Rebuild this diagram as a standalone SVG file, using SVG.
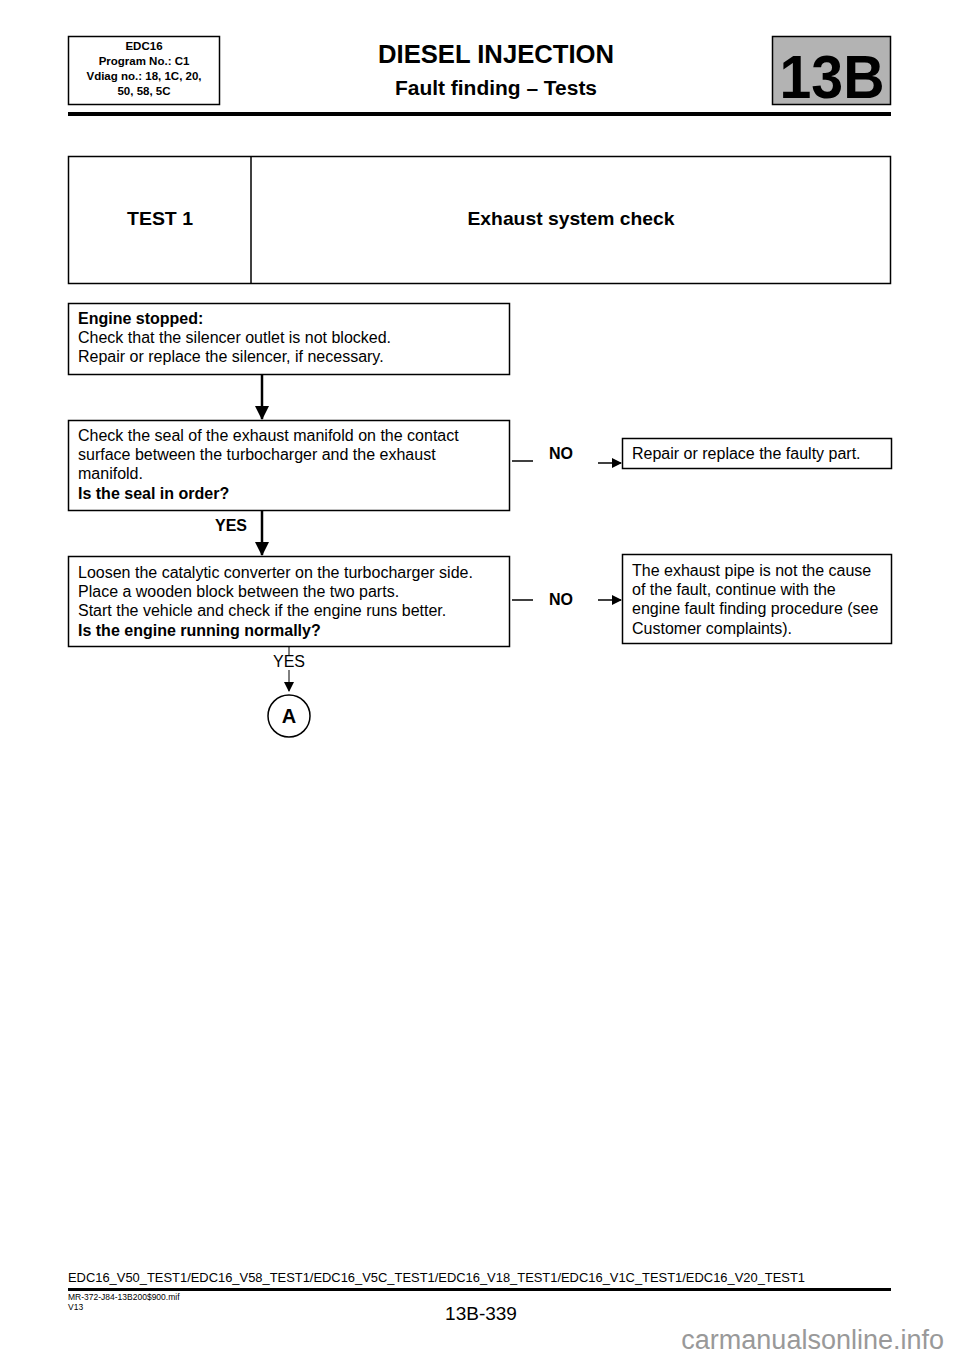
<svg xmlns="http://www.w3.org/2000/svg" width="960" height="1358" viewBox="0 0 960 1358">
<style>
.t{font-family:"Liberation Sans",Arial,sans-serif;fill:#000}
.b{font-weight:bold}
.body{font-size:16px}
.box{fill:#fff;stroke:#000;stroke-width:1.5}
.ln{stroke:#000;fill:none}
</style>
<defs>
<marker id="ah" markerWidth="10" markerHeight="10" refX="9" refY="5" orient="auto" markerUnits="userSpaceOnUse">
<path d="M0,0 L10,5 L0,10 Z" fill="#000"/>
</marker>
<marker id="ahBig" markerWidth="14" markerHeight="14" refX="13" refY="7" orient="auto" markerUnits="userSpaceOnUse">
<path d="M0,0 L14,7 L0,14 Z" fill="#000"/>
</marker>
</defs>
<rect width="960" height="1358" fill="#fff"/>
<g id="header">
<rect x="68.5" y="36.5" width="151" height="68" class="box"/>
<text class="t b" font-size="11.5" text-anchor="middle"><tspan x="144" y="50">EDC16</tspan><tspan x="144" y="65">Program No.: C1</tspan><tspan x="144" y="80">Vdiag no.: 18, 1C, 20,</tspan><tspan x="144" y="95">50, 58, 5C</tspan></text>
<text class="t b" font-size="26" x="496" y="63" text-anchor="middle" textLength="236" lengthAdjust="spacingAndGlyphs">DIESEL INJECTION</text>
<text class="t b" font-size="20" x="496" y="95" text-anchor="middle" textLength="202" lengthAdjust="spacingAndGlyphs">Fault finding – Tests</text>
<rect x="772.5" y="36.5" width="118" height="68" fill="#b3b3b3" stroke="#000" stroke-width="1.5"/>
<text class="t b" font-size="62" x="832" y="98" text-anchor="middle" textLength="105" lengthAdjust="spacingAndGlyphs">13B</text>
<rect x="68" y="112" width="823" height="4" fill="#000"/>
</g>
<g id="test-title">
<rect x="68.5" y="156.5" width="822" height="127" class="box"/>
<line x1="251" y1="156.5" x2="251" y2="283.5" class="ln" stroke-width="1.5"/>
<text class="t b" font-size="19" x="160" y="225" text-anchor="middle" textLength="66" lengthAdjust="spacingAndGlyphs">TEST 1</text>
<text class="t b" font-size="19" x="571" y="225" text-anchor="middle" textLength="207" lengthAdjust="spacingAndGlyphs">Exhaust system check</text>
</g>
<g id="n1">
<rect x="68.5" y="303.5" width="441" height="71" class="box"/>
<text class="t body"><tspan x="78" y="324" class="b">Engine stopped:</tspan><tspan x="78" y="343">Check that the silencer outlet is not blocked.</tspan><tspan x="78" y="362">Repair or replace the silencer, if necessary.</tspan></text>
</g>
<g id="n2">
<rect x="68.5" y="420.5" width="441" height="90" class="box"/>
<text class="t body"><tspan x="78" y="441">Check the seal of the exhaust manifold on the contact</tspan><tspan x="78" y="460">surface between the turbocharger and the exhaust</tspan><tspan x="78" y="479">manifold.</tspan><tspan x="78" y="499" class="b">Is the seal in order?</tspan></text>
</g>
<g id="n3">
<rect x="622.5" y="438.5" width="269" height="30" class="box"/>
<text class="t body" x="632" y="459">Repair or replace the faulty part.</text>
</g>
<g id="n4">
<rect x="68.5" y="556.5" width="441" height="90" class="box"/>
<text class="t body"><tspan x="78" y="578">Loosen the catalytic converter on the turbocharger side.</tspan><tspan x="78" y="597">Place a wooden block between the two parts.</tspan><tspan x="78" y="616">Start the vehicle and check if the engine runs better.</tspan><tspan x="78" y="636" class="b">Is the engine running normally?</tspan></text>
</g>
<g id="n5">
<rect x="622.5" y="554.5" width="269" height="89" class="box"/>
<text class="t body"><tspan x="632" y="576">The exhaust pipe is not the cause</tspan><tspan x="632" y="595">of the fault, continue with the</tspan><tspan x="632" y="614">engine fault finding procedure (see</tspan><tspan x="632" y="634">Customer complaints).</tspan></text>
</g>
<g id="nA">
<circle cx="289" cy="716" r="21" fill="#fff" stroke="#000" stroke-width="1.5"/>
<text class="t b" font-size="20" x="289" y="723" text-anchor="middle">A</text>
</g>
<g id="connectors">
<line x1="262" y1="374.5" x2="262" y2="419" class="ln" stroke-width="2.5" marker-end="url(#ahBig)"/>
<line x1="262" y1="510.5" x2="262" y2="555" class="ln" stroke-width="2.5" marker-end="url(#ahBig)"/>
<text class="t b body" x="231" y="531" text-anchor="middle">YES</text>
<line x1="512" y1="461" x2="533" y2="461" class="ln" stroke-width="1.5"/>
<text class="t b body" x="561" y="459" text-anchor="middle">NO</text>
<line x1="598" y1="463" x2="621" y2="463" class="ln" stroke-width="1.5" marker-end="url(#ah)"/>
<line x1="512" y1="600" x2="533" y2="600" class="ln" stroke-width="1.5"/>
<text class="t b body" x="561" y="605" text-anchor="middle">NO</text>
<line x1="598" y1="600" x2="621" y2="600" class="ln" stroke-width="1.5" marker-end="url(#ah)"/>
<line x1="289" y1="646.5" x2="289" y2="656" class="ln" stroke-width="1"/>
<text class="t body" x="289" y="667" text-anchor="middle">YES</text>
<line x1="289" y1="670" x2="289" y2="691" class="ln" stroke-width="1" marker-end="url(#ah)"/>
</g>
<g id="footer">
<text class="t" font-size="12.5" x="68" y="1282" textLength="737" lengthAdjust="spacingAndGlyphs">EDC16_V50_TEST1/EDC16_V58_TEST1/EDC16_V5C_TEST1/EDC16_V18_TEST1/EDC16_V1C_TEST1/EDC16_V20_TEST1</text>
<rect x="68" y="1288" width="823" height="3" fill="#000"/>
<text class="t" font-size="8.5" x="68" y="1300">MR-372-J84-13B200$900.mif</text>
<text class="t" font-size="8.5" x="68" y="1310">V13</text>
<text class="t" font-size="19" x="481" y="1320" text-anchor="middle">13B-339</text>
<text class="t" font-size="27" x="944" y="1349" text-anchor="end" style="fill:#999">carmanualsonline.info</text>
</g>
</svg>
